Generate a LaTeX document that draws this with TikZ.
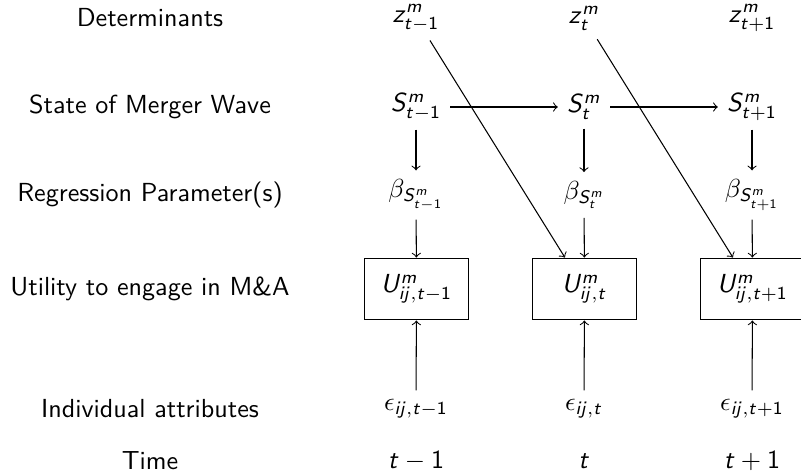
\documentclass[tikz,border=0pt]{standalone}
\usepackage{tikz}
\renewcommand{\familydefault}{\sfdefault}
\DeclareSymbolFont{sfletters}{OT1}{cmss}{m}{sl}
\DeclareSymbolFont{sfdigits}{OT1}{cmss}{m}{n}
\DeclareMathSymbol{z}{\mathalpha}{sfletters}{`z}
\DeclareMathSymbol{m}{\mathalpha}{sfletters}{`m}
\DeclareMathSymbol{t}{\mathalpha}{sfletters}{`t}
\DeclareMathSymbol{i}{\mathalpha}{sfletters}{`i}
\DeclareMathSymbol{j}{\mathalpha}{sfletters}{`j}
\DeclareMathSymbol{S}{\mathalpha}{sfletters}{`S}
\DeclareMathSymbol{U}{\mathalpha}{sfletters}{`U}
\DeclareMathSymbol{1}{\mathalpha}{sfdigits}{`1}

\begin{document}
\begin{tikzpicture}[x=0.383pt,y=-0.383pt,
        utilbox/.style={draw,minimum width=40pt,minimum height=23.7pt}]
        \useasboundingbox (0,0) rectangle (801,471);

        % row labels
        \node (ldet) at (150,18) {Determinants};
        \node (lstate) at (150,107) {State of Merger Wave};
        \node (lreg) at (150,195) {Regression Parameter(s)};
        \node (lutil) at (150,289) {Utility to engage in M\&A};
        \node (lind) at (150,409) {Individual attributes};
        \node (ltime) at (150,461) {Time};

        \node (z1) at (416,18) {$z^m_{t-1}$};
        \node (z2) at (584,18) {$z^m_{t}$};
        \node (z3) at (752,18) {$z^m_{t+1}$};

        \node (S1) at (416,107) {$S^m_{t-1}$};
        \node (S2) at (584,107) {$S^m_{t}$};
        \node (S3) at (752,107) {$S^m_{t+1}$};

        \node (b1) at (416,195) {$\beta_{S^m_{t-1}}$};
        \node (b2) at (584,195) {$\beta_{S^m_{t}}$};
        \node (b3) at (752,195) {$\beta_{S^m_{t+1}}$};

        \node[utilbox] (U1) at (416.5,289) {$U^m_{ij,t-1}$};
        \node[utilbox] (U2) at (584.5,289) {$U^m_{ij,t}$};
        \node[utilbox] (U3) at (752.5,289) {$U^m_{ij,t+1}$};

        \node (e1) at (416,409) {$\epsilon_{ij,t-1}$};
        \node (e2) at (584,409) {$\epsilon_{ij,t}$};
        \node (e3) at (752,409) {$\epsilon_{ij,t+1}$};

        \node (t1) at (416,461) {$t-1$};
        \node (t2) at (584,461) {$t$};
        \node (t3) at (752,461) {$t+1$};

        \draw[->] (S1) -- (S2);
        \draw[->] (S2) -- (S3);
        \draw[->] (S1) -- (b1);
        \draw[->] (S2) -- (b2);
        \draw[->] (S3) -- (b3);
        \draw[->] (b1) -- (U1);
        \draw[->] (b2) -- (U2);
        \draw[->] (b3) -- (U3);
        \draw[->] (e1) -- (U1);
        \draw[->] (e2) -- (U2);
        \draw[->] (e3) -- (U3);
        \draw[->] (z1) -- (U2);
        \draw[->] (z2) -- (U3);
\end{tikzpicture}
\end{document}
